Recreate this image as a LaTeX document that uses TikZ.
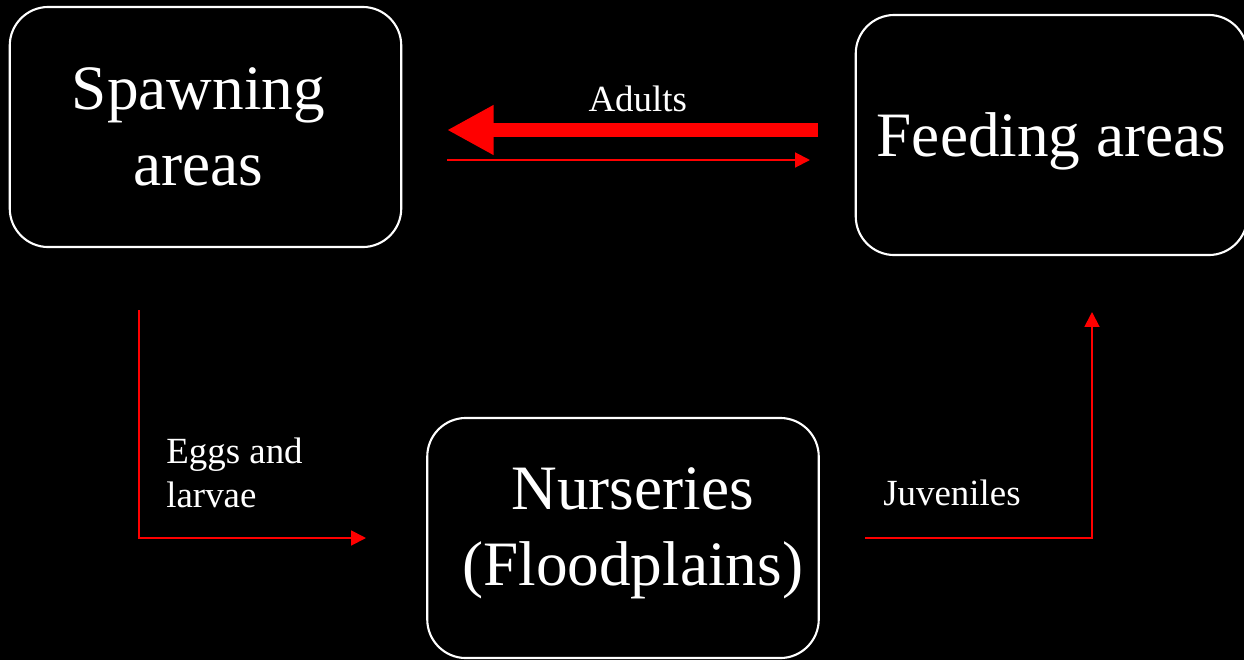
\documentclass[tikz,border=0pt]{standalone}
\usepackage{fontspec}
\setmainfont{Liberation Serif}
\usepackage{tikz}
\usetikzlibrary{arrows.meta}

\begin{document}
\begin{tikzpicture}[x=0.02cm, y=-0.02cm,
  area/.style={draw=white, line width=1.2pt, rounded corners=22pt, fill=black, text=white,
    align=center, font=\fontsize{36}{43}\selectfont, minimum width=393*0.567pt, minimum height=241*0.567pt},
  lbl/.style={text=white, align=left, inner sep=0pt, font=\fontsize{21}{24.5}\selectfont},
  flow/.style={draw=red, line width=1.1pt, -{Triangle[length=8.5pt, width=8.5pt]}},
  bigflow/.style={draw=red, line width=8.5pt, -{Triangle[length=26.5pt, width=26.5pt]}}]
  \fill[black] (0,0) rectangle (1244,660);
  \useasboundingbox (0,0) rectangle (1244,660);
  % the three areas
  \node[area] (spawn) at (205.5,127) {Spawning\hspace*{8pt}\\areas\hspace*{8pt}};
  \node[area, text height=32.5pt] (feed) at (1051.5,135) {Feeding areas};
  \node[area, text depth=13pt] (nurse) at (623,538) {\hspace*{11pt}Nurseries\\\hspace*{11pt}(Floodplains)};
  % free ends of the arrows
  \coordinate (adultsA) at (818,130);
  \coordinate (adultsB) at (447,130);
  \coordinate (backA) at (447,160);
  \coordinate (backB) at (810,160);
  \coordinate (eggsA) at (139,310);
  \coordinate (eggsB) at (366,538);
  \coordinate (juvA) at (865,538);
  \coordinate (juvB) at (1092,312);
  \draw[bigflow] (adultsA) -- (adultsB) node[midway, above=6pt, lbl, xshift=3pt] {Adults};
  \draw[flow] (backA) -- (backB);
  \draw[flow] (eggsA) |- (eggsB);
  \draw[flow] (juvA) -| (juvB);
  \node[lbl, anchor=north west] (eggslbl) at (166,438) {Eggs and\\larvae};
  \node[lbl, anchor=base west] (juvlbl) at (883,505) {Juveniles};
\end{tikzpicture}
\end{document}
